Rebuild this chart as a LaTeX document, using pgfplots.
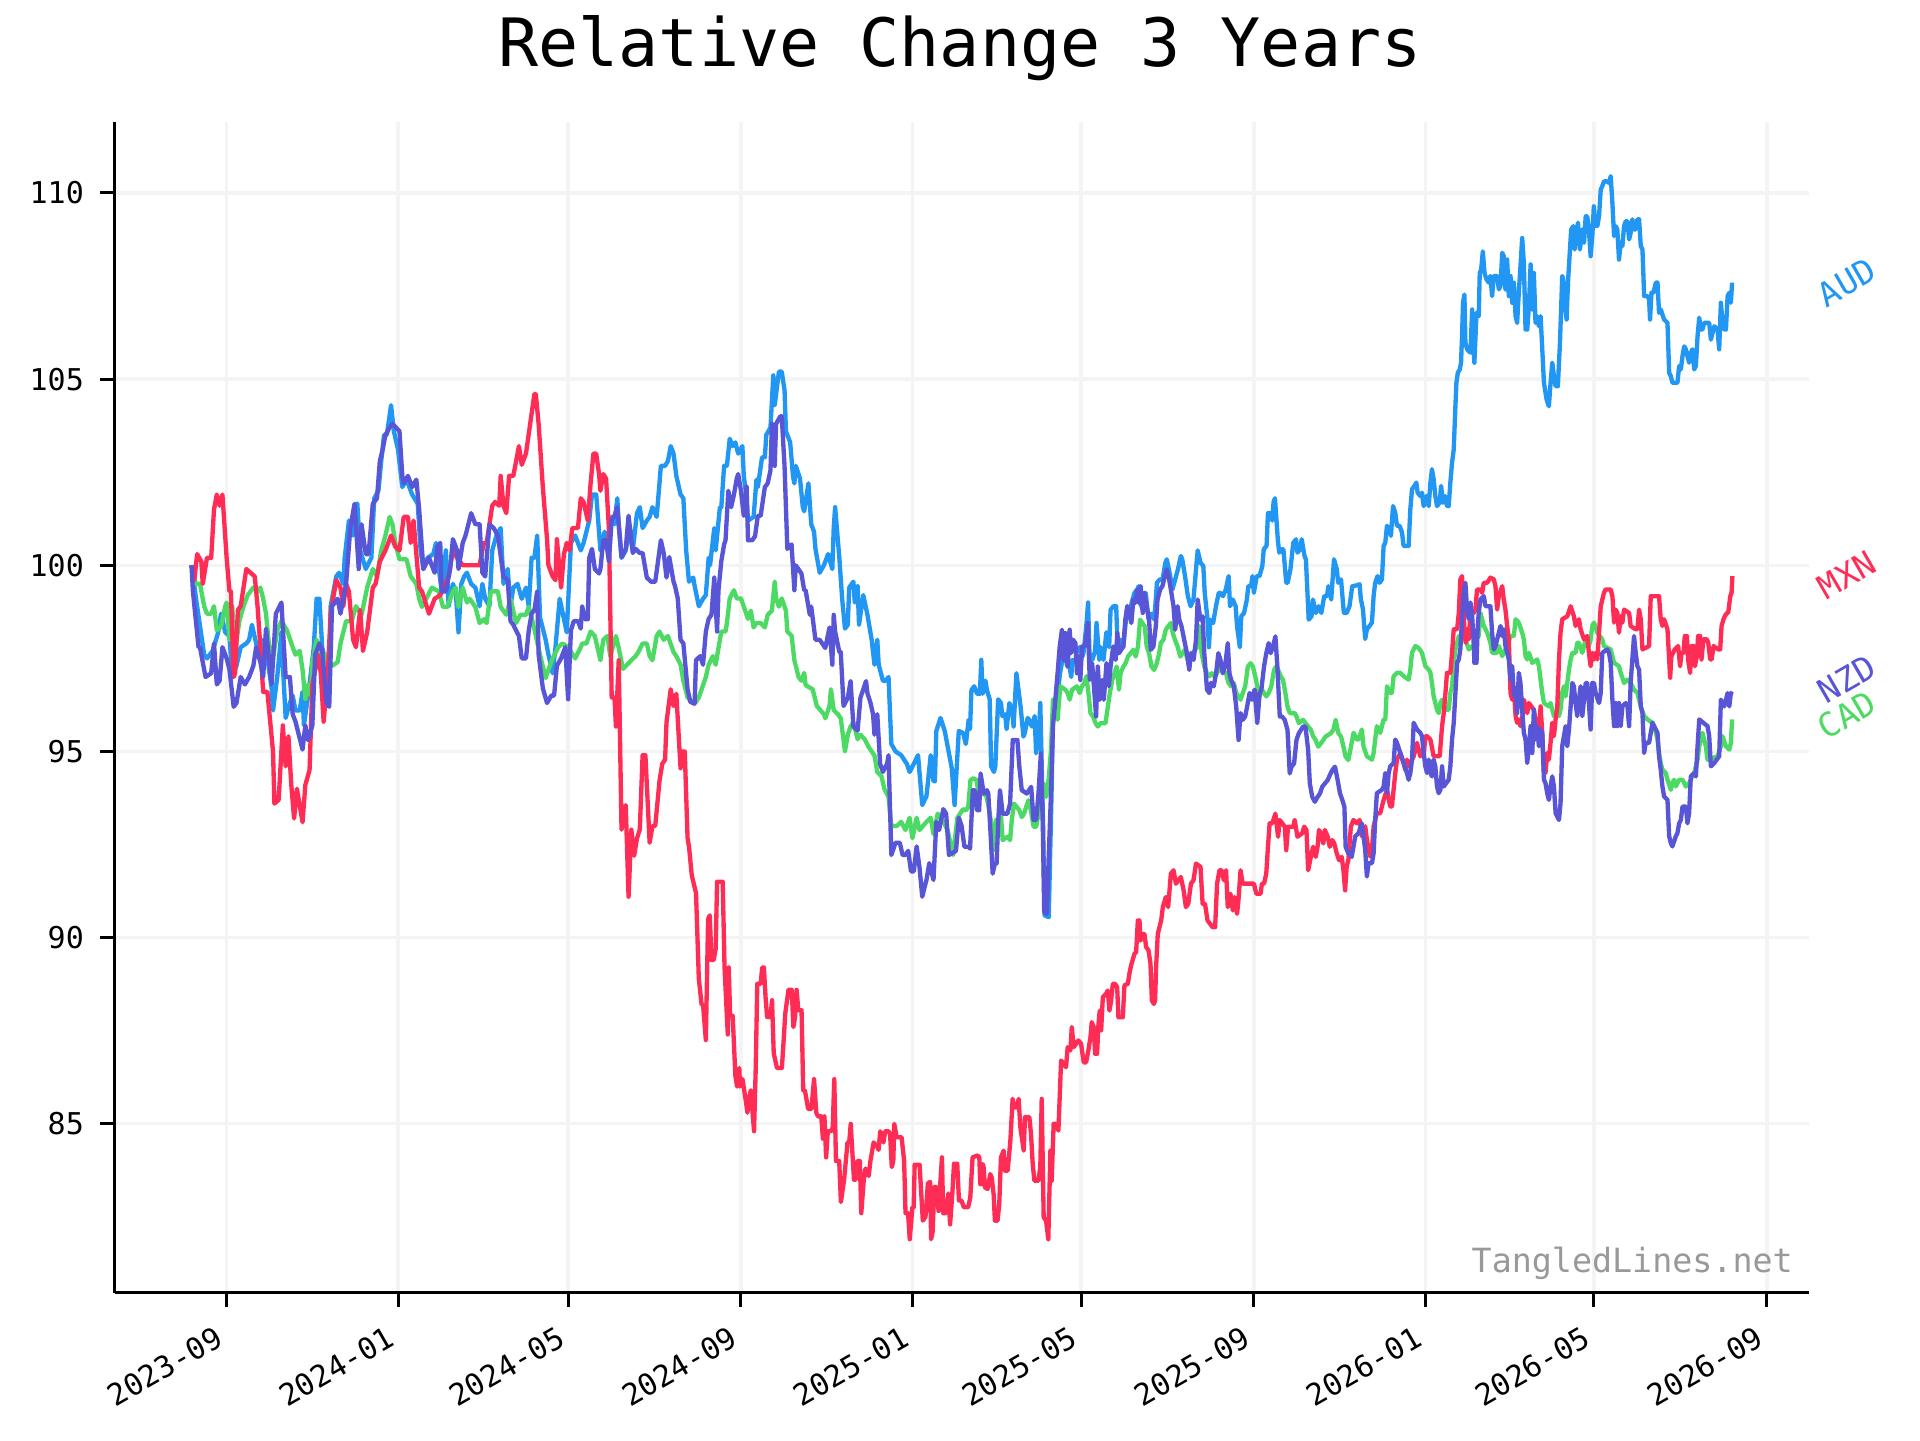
\documentclass[border=0pt]{standalone}
\usepackage{pgfplots}
\pgfplotsset{compat=1.18}
\usepackage{fontspec}
\setmainfont{DejaVu Sans Mono}
\definecolor{audc}{HTML}{2196F3}
\definecolor{mxnc}{HTML}{FF2D55}
\definecolor{nzdc}{HTML}{5856D6}
\definecolor{cadc}{HTML}{4CD964}
\definecolor{gridc}{HTML}{F4F4F4}
\definecolor{wmc}{HTML}{999999}
\begin{document}
\begin{tikzpicture}
\useasboundingbox (0,0) rectangle (576pt,432pt);
\node[anchor=base, font=\fontsize{20}{24}\selectfont] at (288pt,412pt) {Relative Change 3 Years};
\begin{axis}[
  at={(34.35pt,44.25pt)}, anchor=south west,
  width=508.26pt, height=351.1pt, scale only axis,
  xmin=-54.8, xmax=1150.8, ymin=80.47, ymax=111.9,
  axis lines=left, axis line style={-, line width=0.9pt, black},
  tick align=outside, major tick length=4.2pt,
  tick style={black, line width=0.9pt},
  xtick={25,147,268,391,513,633,756,878,998,1121},
  xticklabels={2023-09,2024-01,2024-05,2024-09,2025-01,2025-05,2025-09,2026-01,2026-05,2026-09},
  ytick={85,90,95,100,105,110},
  grid=major, grid style={gridc, line width=1pt},
  tick label style={font=\fontsize{9}{11}\selectfont},
  xticklabel style={xshift=-3.7pt, yshift=-5.4pt, rotate=30, anchor=north east, inner sep=0pt},
  yticklabel style={anchor=east, inner sep=0pt, xshift=-4.8pt},
  /pgf/number format/assume math mode=true,
  clip=false,
  every axis plot/.append style={line width=1.3pt, line join=round, no markers},
]
% AUD
\addplot[audc] table[row sep=\\] {x y\\
0 100\\ 4 98.9\\ 9 97.6\\ 11 97.5\\ 15 97.7\\ 19 98.2\\ 21 98.7\\ 24 98.2\\ 27 98.1\\ 29 97.0\\ 32 97.3\\ 35 97.8\\ 39 97.9\\ 41 98.0\\ 43 98.4\\ 46 97.9\\ 48 97.6\\ 51 98.0\\ 54 97.5\\ 57 96.7\\ 58 96.1\\ 61 97.0\\ 64 98.2\\ 65 97.3\\ 67 95.9\\ 70 96.3\\ 72 96.5\\ 74 96.1\\ 77 96.1\\ 79 96.6\\ 80 95.7\\ 84 96.8\\ 87 97.8\\ 89 99.1\\ 91 99.1\\ 93 97.8\\ 96 97.3\\ 98 96.5\\ 99 98.9\\ 100 99.1\\
103 99.7\\ 105 99.8\\ 108 99.5\\ 109 100.2\\ 112 101.2\\ 115 100.8\\ 117 101.65\\ 118 101.65\\ 120 100.4\\ 124 99.9\\ 128 100.2\\ 130 101.8\\ 133 102.0\\ 135 102.8\\ 137 103.5\\ 139 103.5\\ 142 104.3\\ 144 103.6\\ 147 103.1\\ 150 102.1\\ 153 102.3\\ 157 101.9\\ 161 101.65\\ 163 100.4\\ 165 99.9\\ 168 100.2\\ 172 100.3\\ 174 100.6\\ 176 99.9\\ 178 99.3\\ 181 100.4\\ 183 98.9\\ 186 99.5\\ 188 99.3\\ 190 98.2\\ 192 99.5\\ 194 99.7\\ 196 99.8\\ 199 99.5\\ 202 99.4\\
205 98.9\\ 207 99.5\\ 209 99.1\\ 212 98.9\\ 214 100.4\\ 217 100.8\\ 220 101.0\\ 222 99.5\\ 225 99.9\\ 227 98.9\\ 229 99.4\\ 232 99.5\\ 235 99.1\\ 238 99.4\\ 240 98.9\\ 242 100.2\\ 244 100.2\\ 246 100.8\\ 248 98.6\\ 252 98.0\\ 254 97.6\\ 257 97.1\\ 259 97.8\\ 262 99.1\\ 267 98.2\\ 270 100.6\\ 273 100.8\\ 277 100.4\\ 279 100.6\\ 283 101.2\\ 285 101.9\\ 288 101.9\\ 289 101.4\\ 291 100.4\\ 294 100.9\\ 296 100.6\\ 299 101.3\\ 301 101.1\\ 303 101.8\\ 304 101.1\\
306 100.2\\ 309 100.4\\ 312 101.0\\ 314 100.4\\ 317 101.4\\ 319 101.56\\ 321 101.0\\ 324 101.2\\ 326 101.3\\ 328 101.56\\ 331 101.3\\ 333 102.2\\ 334 102.67\\ 337 102.67\\ 339 102.8\\ 341 103.2\\ 343 103.0\\ 345 102.4\\ 348 101.9\\ 350 101.8\\ 352 100.4\\ 354 99.56\\ 357 99.67\\ 358 99.45\\ 361 98.9\\ 364 99.1\\ 366 99.2\\ 368 100.2\\ 369 100.0\\ 372 101.0\\ 373 100.4\\ 376 101.56\\ 377 101.56\\ 379 102.67\\ 381 102.67\\ 383 103.4\\ 385 103.2\\ 387 103.3\\ 389 103.0\\ 392 103.2\\
393 102.4\\ 395 101.8\\ 396 101.2\\ 400 101.3\\ 402 102.3\\ 403 102.1\\ 406 102.9\\ 408 102.9\\ 409 103.5\\ 412 103.7\\ 414 105.1\\ 415 104.3\\ 418 105.2\\ 420 105.2\\ 422 104.7\\ 423 103.6\\ 426 103.3\\ 428 102.4\\ 429 102.2\\ 430 102.67\\ 433 102.33\\ 435 101.56\\ 436 101.45\\ 439 102.2\\ 441 101.1\\ 443 100.9\\ 444 100.44\\ 447 99.8\\ 450 100.0\\ 453 100.3\\ 456 99.9\\ 457 101.0\\ 458 101.56\\ 461 100.2\\ 463 99.1\\ 465 98.3\\ 467 98.4\\ 468 99.4\\ 471 99.56\\ 472 99.0\\
474 99.45\\ 475 98.4\\ 478 99.2\\ 481 98.67\\ 484 98.0\\ 486 97.33\\ 488 98.0\\ 489 97.33\\ 492 96.9\\ 494 96.9\\ 496 97.0\\ 498 95.2\\ 501 95.0\\ 505 94.9\\ 509 94.67\\ 511 94.45\\ 514 94.67\\ 517 94.9\\ 520 93.56\\ 523 93.8\\ 526 94.9\\ 528 94.2\\ 529 94.2\\ 530 95.55\\ 533 95.9\\ 536 95.55\\ 541 94.55\\ 543 93.56\\ 546 95.55\\ 549 95.5\\ 551 95.2\\ 553 95.85\\ 554 95.6\\ 555 96.65\\ 557 96.75\\ 559 96.55\\ 561 96.55\\ 562 97.46\\ 563 96.55\\ 565 96.9\\
566 96.65\\ 568 96.4\\ 569 94.6\\ 571 94.45\\ 572 94.6\\ 574 96.4\\ 576 96.3\\ 577 95.95\\ 579 96.0\\ 580 95.6\\ 582 96.3\\ 584 96.1\\ 585 95.67\\ 587 97.1\\ 588 96.8\\ 590 96.2\\ 592 95.4\\ 593 95.5\\ 595 95.9\\ 596 95.85\\ 598 95.67\\ 600 95.95\\ 601 94.95\\ 603 95.5\\ 604 96.3\\ 606 92.98\\ 607 90.6\\ 610 90.55\\ 612 93.87\\ 613 96.0\\ 615 96.4\\ 616 96.4\\ 618 97.1\\ 619 97.3\\ 621 97.8\\ 623 97.3\\ 624 97.46\\ 626 97.0\\ 627 97.46\\ 629 97.4\\
630 97.7\\ 632 97.8\\ 634 97.55\\ 635 97.7\\ 637 98.5\\ 638 99.0\\ 639 97.6\\ 641 97.46\\ 643 97.7\\ 644 98.45\\ 646 97.46\\ 647 97.8\\ 649 97.46\\ 651 98.2\\ 653 97.8\\ 654 98.8\\ 656 98.9\\ 658 98.9\\ 659 97.8\\ 661 98.0\\ 663 97.8\\ 665 98.55\\ 666 98.9\\ 668 98.8\\ 669 98.99\\ 671 99.26\\ 673 99.35\\ 674 99.44\\ 675 98.99\\ 677 98.81\\ 679 99.26\\ 681 98.55\\ 683 98.7\\ 685 98.55\\ 686 98.99\\ 687 99.53\\ 689 99.62\\ 691 99.62\\ 693 100.07\\ 694 100.16\\
696 99.8\\ 698 99.35\\ 700 99.62\\ 702 99.9\\ 704 100.25\\ 705 100.16\\ 707 99.71\\ 709 99.17\\ 711 98.9\\ 713 99.08\\ 715 99.98\\ 716 100.4\\ 718 100.07\\ 720 99.98\\ 721 99.26\\ 723 98.54\\ 724 97.8\\ 725 98.54\\ 727 98.45\\ 729 98.9\\ 731 99.26\\ 732 99.26\\ 734 99.17\\ 736 99.35\\ 738 99.71\\ 739 98.9\\ 741 99.08\\ 743 98.9\\ 744 98.36\\ 746 97.8\\ 747 98.63\\ 749 98.72\\ 751 99.08\\ 752 99.44\\ 754 99.44\\ 755 99.71\\ 756 99.26\\ 758 99.71\\ 760 99.71\\ 762 99.98\\
763 100.43\\ 765 100.52\\ 766 101.4\\ 768 101.4\\ 769 101.2\\ 770 101.7\\ 771 101.8\\ 773 100.7\\ 774 100.34\\ 776 100.43\\ 777 100.43\\ 779 99.53\\ 780 99.53\\ 782 99.89\\ 784 100.6\\ 786 100.7\\ 787 100.34\\ 789 100.43\\ 790 100.7\\ 792 100.25\\ 793 100.16\\ 795 98.54\\ 797 98.63\\ 798 99.08\\ 800 98.72\\ 802 98.9\\ 804 98.72\\ 806 99.17\\ 808 99.17\\ 809 99.44\\ 811 99.08\\ 813 100.16\\ 815 99.89\\ 816 99.53\\ 818 99.62\\ 820 98.72\\ 822 98.72\\ 824 98.9\\ 826 99.44\\ 828 99.45\\
831.2 99.49\\ 832.1 99.09\\ 833.6 98.82\\ 835.2 98.02\\ 836.4 98.28\\ 838.3 98.37\\ 840 98.46\\ 841.2 99.18\\ 842.3 99.53\\ 844 99.71\\ 845.4 99.53\\ 847.1 99.62\\ 848.3 100.52\\ 849.5 100.61\\ 850.7 101.06\\ 852.6 100.97\\ 853.5 100.79\\ 855 101.59\\ 856.6 101.41\\ 857.8 101.06\\ 859.7 101.06\\ 861.4 100.88\\ 862.5 100.52\\ 866.1 100.52\\ 867.3 101.5\\ 868.5 102.04\\ 870.2 102.13\\ 871.6 102.22\\ 872.5 101.95\\ 874.4 101.86\\ 875.6 101.95\\ 876.8 101.59\\ 878.7 101.86\\ 880.4 101.59\\ 881.6 102.22\\ 882.7 102.58\\ 883.9 102.31\\ 885.1 101.86\\ 886.3 101.59\\ 888.2 101.68\\
889.2 102.13\\ 890.6 101.68\\ 892.2 101.86\\ 893.4 101.59\\ 894.6 101.59\\ 895.8 102.22\\ 897 102.76\\ 898.2 103.11\\ 899.4 104.28\\ 900.1 104.9\\ 901.1 105.17\\ 902.5 105.26\\ 903.4 105.44\\ 904.1 106.15\\ 904.8 107.05\\ 905.8 107.27\\ 906.5 105.98\\ 907.7 105.8\\ 910.1 105.71\\ 911.3 106.87\\ 912 105.98\\ 912.9 105.44\\ 914.4 106.78\\ 916 106.69\\ 916.7 107.85\\ 917.7 107.94\\ 918.9 108.43\\ 920.1 107.85\\ 921.5 107.68\\ 923.1 107.59\\ 924.3 107.77\\ 925.5 107.23\\ 926.7 107.77\\ 929.1 107.77\\ 930.3 107.41\\ 931.5 107.5\\ 932.7 108.39\\ 933.8 108.3\\ 935 107.41\\ 936.2 108.21\\
937.4 107.23\\ 938.6 107.77\\ 939.8 107.05\\ 941 107.59\\ 942.2 106.69\\ 943.3 106.51\\ 944.5 107.32\\ 945.7 108.03\\ 946.9 108.79\\ 948.1 108.12\\ 949.3 106.33\\ 950.5 106.33\\ 951.7 106.96\\ 952.9 108.08\\ 954.1 106.87\\ 955.2 107.85\\ 956.4 106.51\\ 957.6 106.69\\ 958.8 106.42\\ 960 106.69\\ 961.2 105.8\\ 962.4 104.9\\ 964.3 104.45\\ 965.9 104.27\\ 967.1 104.9\\ 968.3 105.44\\ 969.5 105.08\\ 970.7 104.81\\ 972.3 104.81\\ 973.8 105.98\\ 975.4 107.77\\ 976.1 107.68\\ 977.1 107.05\\ 978.5 106.6\\ 979.5 107.59\\ 980.9 108.48\\ 981.8 109.02\\ 983.3 109.11\\ 984.2 108.48\\
985.6 108.93\\ 986.6 109.2\\ 988 108.48\\ 989.7 109.02\\ 990.9 108.66\\ 992.1 109.37\\ 993.2 109.37\\ 994.4 109.02\\ 995.6 108.3\\ 996.8 108.84\\ 997.9 109.64\\ 999.2 109.11\\ 1000.4 109.11\\ 1001.6 109.37\\ 1002.8 110.09\\ 1003.9 110.18\\ 1005.1 110.31\\ 1007 110.31\\ 1008.7 110.27\\ 1009.9 110.45\\ 1011.1 109.73\\ 1012.3 108.84\\ 1013.4 109.11\\ 1014.6 109.02\\ 1015.8 108.21\\ 1017 108.66\\ 1018.2 108.57\\ 1019.4 109.11\\ 1020.6 109.24\\ 1021.8 109.24\\ 1023 108.75\\ 1024.1 108.93\\ 1025.3 109.29\\ 1026.5 109.02\\ 1027.7 109.02\\ 1028.9 109.29\\ 1030.1 109.29\\ 1031.3 108.57\\
1032.5 108.48\\ 1033.7 107.23\\ 1036 107.23\\ 1037.2 107.14\\ 1037.9 106.6\\ 1038.9 107.32\\ 1040.3 107.32\\ 1042 107.59\\ 1043.2 107.59\\ 1044.3 106.78\\ 1045.5 106.87\\ 1047.9 106.6\\ 1050.3 106.51\\ 1051.5 105.17\\ 1052.7 105.08\\ 1053.8 104.9\\ 1057.4 104.9\\ 1058.6 105.35\\ 1059.8 105.26\\ 1061 105.62\\ 1062.2 105.88\\ 1063.4 105.8\\ 1064.5 105.62\\ 1065.7 105.44\\ 1066.9 105.71\\ 1068.1 105.8\\ 1069.3 105.26\\ 1070.5 105.35\\ 1071.7 106.15\\ 1072.9 106.65\\ 1074 106.33\\ 1075.2 106.33\\ 1076.4 106.51\\ 1080 106.51\\ 1081.2 106.06\\ 1082.4 106.24\\ 1083.6 106.42\\ 1085.9 106.33\\ 1087.1 105.8\\ 1088.3 107.05\\
1089.5 106.51\\ 1090.7 106.33\\ 1091.9 106.33\\ 1093.1 107.23\\ 1094.3 107.32\\ 1095.4 107.05\\ 1096.3 107.59\\
};
% CAD
\addplot[cadc] table[row sep=\\] {x y\\
0 100\\ 3 99.5\\ 6 99.5\\ 9 98.9\\ 11 98.7\\ 14 98.7\\ 16 98.9\\ 18 98.25\\ 21 98.35\\ 24 98.9\\ 25 99.0\\ 27 98.0\\ 29 98.9\\ 31 97.7\\ 34 98.5\\ 37 98.9\\ 40 99.2\\ 44 99.4\\ 47 99.3\\ 49 99.4\\ 51 99.1\\ 53 98.7\\ 55 97.9\\ 58 97.5\\ 61 98.25\\ 64 98.5\\ 68 98.25\\ 72 97.8\\ 74 97.6\\ 77 97.7\\ 79 97.2\\ 81 96.4\\ 83 96.8\\ 85 96.5\\ 86 97.4\\ 89 98.0\\ 91 97.8\\ 94 97.3\\ 96 97.6\\ 100 97.3\\
104 97.4\\ 106 97.9\\ 110 98.5\\ 114 98.5\\ 117 98.9\\ 121 98.67\\ 125 99.4\\ 129 99.9\\ 132 99.7\\ 135 100.4\\ 138 100.8\\ 141 101.3\\ 143 101.1\\ 145 100.6\\ 148 100.16\\ 153 100.16\\ 156 99.7\\ 160 99.5\\ 162 99.1\\ 164 98.88\\ 167 99.1\\ 171 99.4\\ 176 99.3\\ 179 98.88\\ 182 98.88\\ 186 99.3\\ 188 99.4\\ 190 98.88\\ 193 99.4\\ 196 99.0\\ 198 99.1\\ 202 98.88\\ 205 98.45\\ 208 98.55\\ 210 98.45\\ 213 99.3\\ 218 99.3\\ 220 98.88\\ 224 98.67\\ 227 99.1\\
231 98.45\\ 234 98.67\\ 238 98.67\\ 240 98.88\\ 243 98.45\\ 248 97.6\\ 252 96.97\\ 254 97.2\\ 257 97.5\\ 261 97.8\\ 264 97.9\\ 268 97.8\\ 273 97.5\\ 277 97.8\\ 278 97.9\\ 281 97.9\\ 284 98.22\\ 287 98.1\\ 291 97.45\\ 293 98.0\\ 296 98.1\\ 298 97.56\\ 302 98.1\\ 304 97.78\\ 307 97.22\\ 310 97.33\\ 313 97.45\\ 316 97.56\\ 318 97.67\\ 321 97.9\\ 324 97.9\\ 326 97.56\\ 328 97.45\\ 331 98.1\\ 333 98.22\\ 336 98.0\\ 339 98.1\\ 343 97.67\\ 345 97.56\\ 348 97.33\\
350 96.9\\ 353 96.45\\ 356 96.33\\ 359 96.33\\ 361 96.45\\ 363 96.67\\ 366 97.0\\ 368 97.33\\ 371 97.56\\ 373 97.33\\ 375 97.78\\ 377 98.22\\ 380 98.22\\ 381 98.45\\ 383 99.11\\ 386 99.33\\ 388 99.11\\ 391 99.11\\ 393 98.89\\ 396 98.56\\ 398 98.78\\ 400 98.33\\ 402 98.45\\ 405 98.45\\ 408 98.33\\ 410 98.67\\ 413 98.78\\ 415 99.56\\ 416 99.11\\ 418 98.89\\ 420 99.11\\ 423 98.78\\ 424 98.22\\ 427 98.11\\ 429 97.45\\ 432 97.0\\ 434 96.9\\ 436 97.11\\ 437 96.78\\ 442 96.67\\
445 96.22\\ 450 96.0\\ 451 95.89\\ 454 96.22\\ 455 96.67\\ 457 96.11\\ 460 96.0\\ 462 95.89\\ 465 95.0\\ 467 95.45\\ 469 95.67\\ 471 95.78\\ 474 95.33\\ 476 95.45\\ 479 95.33\\ 482 95.11\\ 486 94.89\\ 488 94.45\\ 491 94.33\\ 493 94.0\\ 496 93.78\\ 498 93.0\\ 502 93.0\\ 505 93.11\\ 508 92.89\\ 511 93.22\\ 513 92.67\\ 516 93.22\\ 518 92.89\\ 523 93.11\\ 526 93.22\\ 528 92.78\\ 531 93.33\\ 535 93.11\\ 538 92.89\\ 542 92.22\\ 545 93.22\\ 549 93.45\\ 551 93.42\\ 552.7 93.51\\
554.3 94.23\\ 556.3 94.28\\ 558.6 94.23\\ 560.5 93.78\\ 562.2 93.87\\ 563.9 93.87\\ 565.8 93.78\\ 567.7 93.42\\ 569.4 92.98\\ 571 92.35\\ 572.5 93.16\\ 574.1 93.16\\ 575.8 93.42\\ 577.2 92.62\\ 580.6 92.71\\ 582.5 92.62\\ 583.7 93.16\\ 585.3 93.6\\ 587.2 93.51\\ 589.1 93.42\\ 590.8 93.24\\ 592.5 93.33\\ 593.9 93.51\\ 595.6 93.69\\ 597.3 93.42\\ 599.2 92.98\\ 601.1 92.98\\ 602.7 93.33\\ 604.4 93.87\\ 606.3 94.14\\ 608.2 93.78\\ 609.9 94.23\\ 611.6 95.04\\ 613 96.39\\ 614.7 96.39\\ 616.3 95.85\\ 618.2 96.75\\ 621.8 96.66\\ 623.5 96.57\\ 624.9 96.39\\
626.6 96.66\\ 630.1 96.75\\ 632 96.57\\ 633.7 96.75\\ 635.4 96.84\\ 636.8 97.02\\ 638.5 96.48\\ 639.7 96.03\\ 641.6 95.94\\ 643.3 95.76\\ 644.9 95.67\\ 646.8 95.76\\ 650.4 95.76\\ 652.1 96.21\\ 653.5 96.57\\ 655.2 96.92\\ 656.8 97.1\\ 658.3 97.28\\ 660 96.66\\ 661.1 97.1\\ 663.1 97.28\\ 664.7 97.37\\ 666.4 97.55\\ 668.3 97.64\\ 670.2 97.73\\ 671.9 97.55\\ 673.5 97.82\\ 675 98.54\\ 676.6 98.45\\ 678.3 98.36\\ 679.7 97.82\\ 681.4 97.64\\ 683.1 97.28\\ 685 97.19\\ 686.9 97.37\\ 688.6 97.64\\ 689.7 97.91\\ 691.6 98.0\\ 693.3 98.27\\ 695 98.36\\
696.9 98.45\\ 698.3 98.18\\ 699.8 98.0\\ 701.7 97.82\\ 703.6 97.55\\ 705.2 97.64\\ 706.9 97.73\\ 708.8 97.46\\ 712.4 97.64\\ 716 97.82\\ 717.4 98.36\\ 718.8 97.64\\ 720.7 97.28\\ 722.6 97.1\\ 724.3 97.02\\ 726 97.1\\ 727.9 97.02\\ 729.8 97.1\\ 731.5 97.28\\ 733.1 97.19\\ 736.2 97.1\\ 737.9 96.84\\ 739.8 96.75\\ 741.7 96.84\\ 743.4 96.57\\ 746.5 96.39\\ 748.1 96.57\\ 749.8 96.75\\ 751.7 97.28\\ 753.6 97.37\\ 755.3 97.28\\ 757 97.01\\ 758.9 96.66\\ 760.1 96.48\\ 761.7 96.66\\ 763.2 96.57\\ 764.8 96.48\\ 766.5 96.57\\ 768.4 96.75\\ 770.3 97.19\\
772 97.28\\ 773.2 97.19\\ 775.1 97.02\\ 776.7 96.92\\ 778.4 96.57\\ 779.9 96.21\\ 781.5 96.03\\ 785.1 96.03\\ 786.3 95.94\\ 788 95.76\\ 791 95.85\\ 792.7 95.76\\ 794.6 95.67\\ 796.5 95.58\\ 798.2 95.4\\ 799.9 95.31\\ 801.8 95.13\\ 803.7 95.22\\ 805.4 95.31\\ 807 95.4\\ 810.8 95.49\\ 812.5 95.58\\ 814.2 95.85\\ 816.1 95.49\\ 818 95.4\\ 819.7 95.13\\ 821.3 94.86\\ 823.2 94.77\\ 825.1 95.13\\ 826.9 95.5\\ 829.3 95.32\\ 830.5 95.32\\ 832.8 95.59\\ 834 95.14\\ 836.4 94.87\\ 840 94.78\\ 841.2 94.96\\ 842.3 95.32\\ 843.5 95.68\\ 845.9 95.5\\
848.3 95.86\\ 849.5 95.86\\ 850.7 96.75\\ 853 96.57\\ 854.2 96.57\\ 855.4 97.02\\ 857.8 97.11\\ 860.2 97.11\\ 862.5 97.02\\ 866.1 96.93\\ 867.3 97.2\\ 868.5 97.65\\ 870.9 97.83\\ 873.2 97.78\\ 875.6 97.65\\ 878 97.29\\ 880.4 97.2\\ 881.6 97.11\\ 882.7 96.84\\ 883.9 96.48\\ 886.3 96.12\\ 887.5 96.03\\ 888.7 96.3\\ 889.9 96.39\\ 892.3 96.12\\ 894.6 96.12\\ 895.8 96.57\\ 897 96.75\\ 898.2 97.38\\ 899.4 97.74\\ 900.6 97.92\\ 901.8 98.1\\ 902.9 97.92\\ 904.1 98.19\\ 906.5 98.01\\ 908.9 97.74\\ 911.3 97.83\\ 912.5 97.74\\ 913.6 98.01\\ 916 98.1\\
917.2 98.72\\ 919.6 98.37\\ 922 98.19\\ 924.3 97.92\\ 925.5 97.65\\ 929.1 97.65\\ 930.3 97.83\\ 932.7 97.56\\ 936.2 97.83\\ 938.6 98.1\\ 941 98.1\\ 942.2 98.55\\ 944.5 98.46\\ 946.9 98.19\\ 948.1 98.01\\ 949.3 97.56\\ 950.5 97.47\\ 951.7 97.65\\ 954.1 97.38\\ 957.6 97.47\\ 958.8 97.29\\ 960 96.93\\ 961.2 96.57\\ 962.4 96.3\\ 965.9 96.21\\ 967.1 96.3\\ 969.5 95.95\\ 971.9 96.03\\ 973.1 95.95\\ 974.2 96.12\\ 975.4 96.57\\ 976.6 96.75\\ 977.8 96.48\\ 979 96.84\\ 980.2 97.2\\ 981.4 97.47\\ 982.6 97.65\\ 984.9 97.65\\ 986.1 97.92\\ 987.3 97.92\\
989.7 97.65\\ 992.1 98.01\\ 993.2 98.01\\ 994.4 97.83\\ 995.6 98.01\\ 996.8 98.37\\ 998 98.46\\ 1000.4 98.19\\ 1003.9 98.01\\ 1005.1 97.83\\ 1009.9 97.74\\ 1011.1 97.56\\ 1012.3 97.38\\ 1015.8 97.29\\ 1017 97.11\\ 1019.4 96.84\\ 1021.8 96.93\\ 1024.1 96.84\\ 1026.5 96.66\\ 1028.9 96.57\\ 1030.1 96.39\\ 1031.3 96.21\\ 1033.7 95.95\\ 1036 95.86\\ 1039.6 95.77\\ 1040.8 95.68\\ 1042 95.5\\ 1043.2 95.32\\ 1044.3 94.96\\ 1045.5 94.69\\ 1046.7 94.51\\ 1049.1 94.42\\ 1050.3 94.24\\ 1052.7 93.97\\ 1053.8 94.15\\ 1055 94.24\\ 1056.2 94.06\\ 1058.6 94.24\\ 1061 94.24\\ 1063.4 94.06\\
1065.7 94.15\\ 1068.1 94.33\\ 1069.3 94.42\\ 1070.5 94.6\\ 1071.7 94.78\\ 1072.9 95.14\\ 1074 95.32\\ 1075.2 95.5\\ 1076.4 95.32\\ 1077.6 95.14\\ 1078.8 94.78\\ 1085.9 94.87\\ 1088.3 95.14\\ 1089.5 95.41\\ 1091.9 95.14\\ 1094.3 95.05\\ 1095.4 95.23\\ 1096.3 95.86\\
};
% MXN
\addplot[mxnc] table[row sep=\\] {x y\\
0 100.0\\ 2 99.6\\ 4 100.3\\ 7 100.1\\ 8 99.5\\ 11 100.2\\ 14 100.2\\ 16 101.5\\ 18 101.9\\ 20 101.6\\ 22 101.9\\ 25 100.2\\ 27 99.3\\ 28 99.3\\ 30 97.0\\ 31 97.1\\ 33 98.8\\ 35 98.9\\ 39 99.9\\ 42 99.8\\ 45 99.7\\ 47 98.9\\ 49 97.8\\ 51 96.6\\ 54 96.6\\ 58 95.0\\ 59 93.6\\ 62 93.7\\ 65 95.7\\ 67 94.6\\ 69 95.4\\ 71 94.1\\ 73 93.2\\ 75 94.0\\ 79 93.1\\ 81 94.1\\ 84 94.5\\ 86 96.8\\ 90 97.6\\ 92 97.1\\
94 95.8\\ 97 97.1\\ 99 98.7\\ 103 99.6\\ 106 99.4\\ 108 98.9\\ 110 99.5\\ 112 99.3\\ 115 98.0\\ 117 97.8\\ 120 98.8\\ 122 97.7\\ 125 98.2\\ 129 99.4\\ 131 99.5\\ 134 100.1\\ 138 100.4\\ 142 100.8\\ 145 100.5\\ 148 100.4\\ 151 101.3\\ 154 101.3\\ 156 100.6\\ 158 101.2\\ 162 99.4\\ 164 99.3\\ 169 98.7\\ 173 99.1\\ 177 99.2\\ 183 99.7\\ 186 100.4\\ 189 100.2\\ 193 100.0\\ 197 100.0\\ 205 100.0\\ 208 100.6\\ 210 100.6\\ 214 101.6\\ 216 101.7\\ 219 101.6\\
220 102.4\\ 222 101.6\\ 224 101.4\\ 226 102.4\\ 229 102.4\\ 233 103.2\\ 235 102.7\\ 238 103.0\\ 244 104.6\\ 245 104.6\\ 247 103.8\\ 250 102.1\\ 253 100.7\\ 254 100.0\\ 257 99.7\\ 259 99.6\\ 260 100.7\\ 263 99.4\\ 265 100.3\\ 267 100.6\\ 269 100.4\\ 271 101.0\\ 275 101.0\\ 277 101.8\\ 279 101.7\\ 282 101.2\\ 284 102.2\\ 286 103.0\\ 288 103.0\\ 290 102.45\\ 291 102.0\\ 293 102.45\\ 295 102.33\\ 297 101.0\\ 299 96.45\\ 301 96.45\\ 302 95.67\\ 304 97.45\\ 306 92.9\\ 309 93.56\\
311 91.1\\ 313 92.9\\ 315 92.2\\ 317 92.67\\ 319 92.9\\ 321 94.9\\ 323 94.9\\ 326 92.55\\ 328 93.0\\ 330 93.0\\ 333 94.2\\ 335 94.67\\ 337 94.78\\ 338 95.78\\ 341 96.67\\ 343 96.22\\ 345 96.55\\ 348 94.55\\ 349 95.0\\ 351 95.0\\ 353 92.67\\ 354 92.45\\ 356 91.67\\ 359 91.2\\ 361 88.9\\ 363 88.2\\ 364 88.2\\ 366 87.25\\ 367.6 90.5\\ 368.8 90.6\\ 370 89.4\\ 371.6 89.4\\ 373 89.7\\ 374 91.5\\ 378 91.5\\ 379.3 89.2\\ 381.6 87.4\\ 382.3 89.2\\ 383.3 87.9\\ 385.1 87.9\\
386.3 86.9\\ 387 86.3\\ 388.2 86.0\\ 389.8 86.5\\ 390.3 86.0\\ 392.1 86.2\\ 393.3 85.9\\ 394.5 85.6\\ 395.6 85.3\\ 396.8 85.7\\ 398 85.9\\ 400.3 84.8\\ 401.5 86.5\\ 402.6 88.76\\ 405 88.76\\ 406.1 89.2\\ 407.3 89.2\\ 408.5 88.4\\ 409.6 87.87\\ 412 87.87\\ 413.1 88.32\\ 414.3 86.9\\ 416.6 86.5\\ 420.1 86.5\\ 421.3 87.2\\ 422.5 87.96\\ 424.8 88.6\\ 427.1 88.6\\ 428.3 87.6\\ 429.5 87.87\\ 430.6 88.6\\ 431.8 88.05\\ 434.1 88.05\\ 435.3 85.9\\ 436.5 85.9\\ 438.8 85.4\\ 441.1 85.4\\ 443 86.2\\ 444.6 85.3\\ 445.8 85.2\\
448.1 85.2\\ 449.3 84.6\\ 450.4 85.2\\ 451.6 84.1\\ 452.8 84.8\\ 455.1 84.8\\ 456.3 84.9\\ 457.4 86.2\\ 458.6 84.0\\ 460.9 84.0\\ 462.1 82.9\\ 464.4 83.5\\ 466.8 84.5\\ 468 84.5\\ 469.1 85.0\\ 471.4 83.5\\ 472.6 83.5\\ 473.8 84.0\\ 475.6 84.0\\ 476.6 82.6\\ 478.4 83.5\\ 479.6 83.8\\ 481.9 83.6\\ 483.1 84.0\\ 485.4 84.5\\ 487.8 84.4\\ 488.9 84.3\\ 490.1 84.8\\ 492.4 84.5\\ 493.6 84.8\\ 496 84.8\\ 497.1 84.73\\ 498.3 83.84\\ 499.4 84.0\\ 500.1 85.0\\ 501.8 84.64\\ 505.3 84.64\\ 507.1 84.0\\ 508.1 82.6\\ 509.9 82.6\\
511.1 81.9\\ 513 82.76\\ 513.9 82.76\\ 514.6 83.9\\ 518.1 83.9\\ 520.4 82.4\\ 522.3 82.5\\ 524 83.4\\ 525.6 83.44\\ 526.3 81.9\\ 527.4 82.1\\ 528.6 83.3\\ 530.2 83.3\\ 531.6 82.66\\ 534 84.1\\ 534.9 82.6\\ 536.8 82.6\\ 538.6 83.13\\ 539.8 82.3\\ 541.4 83.13\\ 542.6 83.93\\ 544.9 83.93\\ 546.1 82.94\\ 547.9 82.94\\ 549.6 82.76\\ 551.1 82.76\\ 552.7 82.76\\ 554.2 83.03\\ 555.8 84.1\\ 559.4 84.15\\ 560.6 84.1\\ 561.3 83.38\\ 562.2 83.38\\ 563 83.92\\ 563.7 83.83\\ 564.6 83.29\\ 566.5 83.25\\ 568.4 83.65\\ 569.4 83.56\\ 570.8 83.11\\
571.7 82.4\\ 573.6 82.4\\ 574.8 82.85\\ 576 84.1\\ 577.9 84.28\\ 578.9 83.74\\ 580.8 83.74\\ 582.7 84.55\\ 584.3 85.67\\ 585.5 85.44\\ 587.4 85.44\\ 588.6 85.67\\ 589.8 84.91\\ 592.2 84.28\\ 593.1 85.18\\ 596.2 85.18\\ 597.4 84.73\\ 598.6 83.92\\ 599.8 83.47\\ 602.6 83.47\\ 604 83.83\\ 605 85.67\\ 606.4 82.49\\ 608.1 82.4\\ 609.7 81.9\\ 611.2 84.28\\ 612.1 83.47\\ 613.5 85.0\\ 615.2 85.0\\ 616.9 84.82\\ 618.8 86.7\\ 622.3 86.52\\ 623.5 87.06\\ 625.4 86.97\\ 626.4 87.6\\ 627.8 87.06\\ 631.1 87.24\\ 633 87.15\\ 634.9 86.65\\ 636.6 86.65\\
638.2 86.97\\ 639.7 87.33\\ 640.6 87.73\\ 642 87.6\\ 643 86.88\\ 644.4 86.88\\ 645.4 87.68\\ 646.3 88.04\\ 647.3 87.51\\ 648.5 88.4\\ 650.8 88.49\\ 652 88.58\\ 653.2 88.04\\ 654.4 88.31\\ 655.6 88.76\\ 657.2 88.76\\ 658.7 88.67\\ 659.6 87.86\\ 662.7 87.86\\ 663.9 88.72\\ 666.3 88.76\\ 667.4 89.03\\ 668.6 89.25\\ 671 89.57\\ 672.2 89.61\\ 673.4 90.46\\ 674.6 90.46\\ 675.3 89.92\\ 676.9 90.1\\ 678.1 90.1\\ 679.3 89.75\\ 681 89.66\\ 682.4 89.3\\ 683.4 88.31\\ 684.8 88.22\\ 685.7 88.31\\ 686.4 89.21\\ 687.6 90.1\\ 688.8 90.28\\ 690 90.46\\
691.2 90.82\\ 693.3 91.09\\ 695 90.82\\ 696.9 91.72\\ 698.8 91.81\\ 700.5 91.45\\ 704 91.63\\ 706 91.27\\ 707.6 90.82\\ 709.3 90.91\\ 711.2 91.45\\ 713 91.54\\ 714.8 91.99\\ 718 91.9\\ 719.5 90.91\\ 721.2 90.91\\ 723 90.46\\ 726.7 90.28\\ 728.4 90.28\\ 729.8 91.45\\ 731.5 91.81\\ 733 91.81\\ 734.6 91.54\\ 736.2 91.81\\ 737.4 90.82\\ 739.3 91.18\\ 741 90.73\\ 742.2 91.09\\ 744 90.64\\ 745 91.0\\ 746.5 91.81\\ 748 91.45\\ 756 91.45\\ 757.7 91.18\\ 760.8 91.18\\ 761.7 91.45\\ 763.2 91.45\\ 764.8 91.72\\ 766 92.44\\ 767.2 93.07\\
769 93.07\\ 771.3 93.33\\ 773.2 92.71\\ 774.4 93.16\\ 778 92.98\\ 779 92.35\\ 780.3 92.98\\ 784 92.98\\ 785 93.16\\ 787 92.71\\ 790.3 92.8\\ 791.8 92.98\\ 793.4 92.89\\ 794.6 91.81\\ 796.5 92.17\\ 798.2 92.44\\ 800 92.17\\ 801.3 92.44\\ 802.3 92.89\\ 803.7 92.8\\ 805.4 92.53\\ 806.5 92.89\\ 808.5 92.71\\ 810 92.44\\ 811.8 92.62\\ 813.2 92.53\\ 815 92.26\\ 816.6 92.08\\ 818.5 92.17\\ 819.7 91.81\\ 820.9 91.27\\ 822 91.9\\ 823.2 92.08\\ 825 92.98\\ 826.8 93.16\\ 829.3 93.07\\ 831.2 93.16\\ 832.8 92.72\\ 835.2 92.99\\ 836.4 92.63\\
837.6 92.36\\ 838.8 92.18\\ 840 92.36\\ 841.2 92.99\\ 843.5 93.34\\ 845.9 93.34\\ 848.3 93.7\\ 850.7 93.97\\ 853 93.52\\ 854.2 93.52\\ 855.4 93.97\\ 856.6 94.42\\ 857.8 94.78\\ 860.2 94.96\\ 862.5 94.69\\ 863.7 94.51\\ 864.9 94.78\\ 866.1 94.6\\ 869.7 94.87\\ 872.1 95.23\\ 874.4 94.87\\ 875.6 94.96\\ 876.8 94.87\\ 878 95.41\\ 879.2 95.41\\ 881.6 95.32\\ 883.9 94.87\\ 888.2 94.87\\ 889.9 95.68\\ 891.1 96.03\\ 892.3 96.57\\ 893.4 97.11\\ 895.8 97.11\\ 897 97.65\\ 898.2 98.28\\ 900.6 98.28\\ 901.8 98.72\\ 902.9 99.62\\ 904.1 99.71\\ 904.8 99.08\\
905.8 98.28\\ 906.7 97.92\\ 907.7 98.28\\ 908.9 98.01\\ 910.1 98.72\\ 912.5 98.72\\ 913.6 98.81\\ 914.8 99.35\\ 917.2 99.35\\ 918.4 99.26\\ 919.6 99.53\\ 922 99.53\\ 924.3 99.67\\ 926.7 99.62\\ 927.9 99.44\\ 929.1 98.81\\ 930.3 99.17\\ 932.7 99.44\\ 933.8 99.08\\ 935 98.81\\ 936.2 98.37\\ 937.4 98.01\\ 938.6 96.57\\ 939.8 96.39\\ 941 96.75\\ 942.2 95.95\\ 943.3 95.77\\ 944.5 95.86\\ 945.7 95.68\\ 946.9 95.86\\ 948.1 96.39\\ 950.5 96.03\\ 951.7 96.3\\ 955.2 96.12\\ 956.4 95.86\\ 957.6 95.59\\ 958.8 95.5\\ 960 96.21\\ 961.2 95.5\\ 962.4 94.42\\
963.5 94.42\\ 964.7 94.96\\ 965.9 94.78\\ 967.1 95.23\\ 968.3 95.77\\ 969.5 95.41\\ 970.7 95.86\\ 971.9 96.21\\ 973.1 97.47\\ 974.2 98.19\\ 975.4 98.55\\ 979 98.63\\ 981.4 98.9\\ 983.7 98.63\\ 984.9 98.37\\ 987.3 98.55\\ 988.5 98.28\\ 990.9 98.01\\ 993.2 98.1\\ 994.4 97.65\\ 995.6 97.29\\ 996.8 97.65\\ 998 97.47\\ 999.2 97.65\\ 1000.4 97.47\\ 1001.6 98.19\\ 1002.8 98.9\\ 1005.1 99.26\\ 1006.3 99.35\\ 1009.9 99.35\\ 1011.1 99.17\\ 1012.3 98.46\\ 1013.4 98.81\\ 1014.6 98.72\\ 1015.8 98.19\\ 1017 98.63\\ 1018.2 98.46\\ 1019.4 98.81\\ 1023 98.72\\ 1024.1 98.37\\
1027.7 98.28\\ 1028.9 98.28\\ 1030.1 98.81\\ 1031.3 98.55\\ 1032.5 97.74\\ 1037.2 97.83\\ 1038.4 99.17\\ 1044.3 99.17\\ 1045.5 98.55\\ 1046.7 98.37\\ 1047.9 98.55\\ 1050.3 98.28\\ 1051.5 97.47\\ 1052.2 96.98\\ 1053.1 97.56\\ 1055.5 97.74\\ 1057.9 97.83\\ 1059.3 97.29\\ 1060.3 97.65\\ 1061.7 97.65\\ 1062.6 98.1\\ 1064.1 98.1\\ 1065 97.47\\ 1066.4 97.11\\ 1067.4 97.83\\ 1068.8 97.83\\ 1069.8 97.29\\ 1071.2 97.56\\ 1072.1 98.1\\ 1073.6 98.1\\ 1074.5 97.47\\ 1075.9 98.01\\ 1078.3 98.01\\ 1079.3 97.92\\ 1080.7 97.47\\ 1081.7 97.47\\ 1083.1 97.83\\ 1086.4 97.74\\ 1087.8 97.74\\ 1088.8 98.37\\
1090.2 98.55\\ 1091.2 98.64\\ 1092.6 98.72\\ 1093.5 98.72\\ 1095 99.17\\ 1095.9 99.26\\ 1096.5 99.71\\
};
% NZD
\addplot[nzdc] table[row sep=\\] {x y\\
0 100\\ 1 99.3\\ 5 97.8\\ 6 97.8\\ 9 97.2\\ 10 97.0\\ 14 97.1\\ 16 97.9\\ 18 96.8\\ 20 96.9\\ 22 97.8\\ 25 97.5\\ 27 97.2\\ 30 96.2\\ 32 96.3\\ 35 97.0\\ 38 96.8\\ 41 97.0\\ 44 97.3\\ 46 97.8\\ 49 97.4\\ 51 97.0\\ 53 98.3\\ 57 96.8\\ 60 98.7\\ 64 99.0\\ 67 97.0\\ 70 97.0\\ 72 96.0\\ 74 95.8\\ 79 95.05\\ 81 95.7\\ 83 95.3\\ 86 95.7\\ 88 97.6\\ 91 97.9\\ 93 97.7\\ 96 96.3\\ 98 96.2\\ 100 98.9\\
104 99.1\\ 106 98.7\\ 110 99.5\\ 113 101.0\\ 116 101.65\\ 119 99.9\\ 121 101.1\\ 124 100.3\\ 126 100.3\\ 129 101.65\\ 132 101.8\\ 134 102.8\\ 136 103.1\\ 138 103.5\\ 141 103.7\\ 143 103.8\\ 148 103.6\\ 150 102.4\\ 151 102.2\\ 154 102.4\\ 157 102.1\\ 160 102.3\\ 162 101.5\\ 165 99.9\\ 169 100.2\\ 173 99.8\\ 175 100.5\\ 177 100.6\\ 178 99.3\\ 181 99.3\\ 184 99.9\\ 186 100.7\\ 189 100.4\\ 190 99.9\\ 193 100.6\\ 195 100.8\\ 199 101.4\\ 202 101.1\\ 205 101.1\\ 207 99.8\\
209 99.7\\ 212 101.1\\ 215 101.0\\ 218 100.8\\ 222 99.7\\ 225 99.6\\ 227 98.5\\ 229 98.4\\ 233 98.1\\ 235 97.5\\ 238 97.5\\ 240 98.25\\ 242 98.7\\ 244 98.8\\ 246 99.3\\ 247 97.6\\ 250 96.7\\ 253 96.3\\ 256 96.5\\ 258 96.5\\ 260 97.3\\ 263 97.5\\ 266 97.8\\ 268 96.4\\ 270 98.25\\ 272 98.5\\ 275 98.5\\ 277 98.3\\ 278 98.9\\ 280 98.55\\ 282 98.55\\ 283 100.2\\ 285 100.44\\ 287 99.9\\ 290 99.78\\ 291 99.9\\ 293 100.67\\ 295 100.67\\ 297 100.1\\ 299 101.22\\
301 101.33\\ 303 101.56\\ 304 101.11\\ 306 100.22\\ 309 100.44\\ 311 101.33\\ 313 100.67\\ 314 100.33\\ 316 100.44\\ 319 100.33\\ 321 100.33\\ 324 99.67\\ 327 99.56\\ 330 99.56\\ 334 100.67\\ 336 100.33\\ 338 99.67\\ 340 100.22\\ 343 99.56\\ 344 99.45\\ 346 99.11\\ 348 98.0\\ 350 97.9\\ 353 96.67\\ 355 96.33\\ 358 96.28\\ 359 97.45\\ 362 97.56\\ 364 97.33\\ 366 98.22\\ 368 98.56\\ 370 98.67\\ 372 99.67\\ 374 98.22\\ 375 99.33\\ 377 100.11\\ 379 100.56\\ 380 100.67\\ 382 102.0\\ 384 101.56\\
386 101.9\\ 388 102.33\\ 389 102.45\\ 391 102.0\\ 393 101.33\\ 395 102.11\\ 396 100.67\\ 399 100.67\\ 401 100.78\\ 403 101.33\\ 405 101.33\\ 408 102.1\\ 410 102.2\\ 412 102.55\\ 413 103.8\\ 415 102.67\\ 416 103.8\\ 419 104.0\\ 420 104.0\\ 422 102.67\\ 424 100.44\\ 427 100.56\\ 429 99.33\\ 430 100.0\\ 434 99.78\\ 436 99.33\\ 437 99.33\\ 440 98.67\\ 441 98.89\\ 444 98.0\\ 447 98.0\\ 449 97.89\\ 451 97.78\\ 454 98.33\\ 456 97.33\\ 457 98.67\\ 458 98.22\\ 461 97.67\\ 462 97.67\\ 464 96.22\\
467 96.44\\ 469 96.89\\ 471 95.67\\ 474 95.56\\ 476 96.44\\ 480 96.89\\ 481 96.56\\ 483 96.33\\ 485 96.0\\ 486 95.45\\ 488 96.0\\ 490 94.67\\ 492 94.45\\ 495 94.67\\ 496 94.9\\ 498 92.22\\ 501 92.55\\ 504 92.55\\ 506 92.22\\ 508 92.22\\ 510 92.33\\ 512 91.78\\ 514 91.78\\ 516 92.45\\ 518 91.9\\ 520 91.1\\ 523 91.55\\ 525 92.0\\ 528 91.55\\ 530 93.11\\ 532 92.89\\ 535 93.45\\ 537 93.33\\ 539 92.22\\ 544 92.33\\ 546 93.22\\ 548 93.0\\ 550 92.44\\ 553 92.44\\ 554 92.39\\
556 93.96\\ 557.4 93.96\\ 559 93.42\\ 560.5 93.42\\ 561.5 94.41\\ 563 94.05\\ 564 93.87\\ 566 93.96\\ 567 93.87\\ 568.6 92.8\\ 570.1 91.72\\ 571.7 91.99\\ 572.9 91.99\\ 574.1 93.16\\ 575.3 93.96\\ 577.2 93.33\\ 580.6 93.33\\ 582.5 93.6\\ 584.4 95.31\\ 587.7 95.31\\ 589.1 94.59\\ 590.8 93.96\\ 594.4 93.87\\ 597.5 94.05\\ 599.2 93.16\\ 601.1 93.16\\ 602.7 93.87\\ 604.4 94.95\\ 605.8 92.98\\ 606.8 90.69\\ 608.7 90.64\\ 609.9 92.08\\ 611.6 93.87\\ 613 95.67\\ 614.7 96.39\\ 616.3 97.1\\ 617.8 97.82\\ 619.4 98.27\\ 620.6 97.46\\ 621.8 98.18\\
623.5 97.28\\ 624.9 98.27\\ 625.9 97.64\\ 627.3 98.0\\ 629 97.91\\ 630.1 97.1\\ 631.3 97.55\\ 632.5 96.92\\ 633.7 97.82\\ 635.4 97.82\\ 636.8 98.09\\ 637.8 98.45\\ 639.2 96.92\\ 640.9 97.37\\ 642.5 96.57\\ 643.7 95.94\\ 644.9 97.28\\ 646.4 96.39\\ 648 96.92\\ 649.2 96.39\\ 651.1 97.37\\ 652.8 96.75\\ 654 97.28\\ 655.9 97.82\\ 657.6 97.46\\ 658.8 98.18\\ 660 97.64\\ 663.1 97.82\\ 664.5 98.54\\ 665.9 98.9\\ 667.1 98.72\\ 668.8 98.45\\ 670.2 99.08\\ 671.6 98.99\\ 673.1 99.35\\ 674.2 98.99\\ 675.4 99.44\\ 676.9 98.72\\ 678 99.26\\ 679.7 98.9\\
681.4 98.54\\ 682.6 97.73\\ 684.5 97.82\\ 686.2 98.36\\ 687.4 99.08\\ 689.3 99.35\\ 690.9 99.44\\ 692.6 99.71\\ 694 99.89\\ 695.7 99.62\\ 696.9 99.35\\ 698.8 98.9\\ 700 98.27\\ 701.7 98.9\\ 702.9 98.54\\ 704.5 98.36\\ 706.4 98.0\\ 708.3 97.64\\ 710 97.19\\ 711.2 97.64\\ 713.1 97.46\\ 714.8 98.0\\ 716 99.08\\ 717.9 98.54\\ 719.5 98.63\\ 720.7 97.64\\ 722.6 96.66\\ 724.3 96.57\\ 725.5 96.84\\ 727.4 96.75\\ 729.1 97.1\\ 730.7 97.64\\ 732.2 97.46\\ 733.8 97.1\\ 735.5 97.28\\ 737.4 97.91\\ 738.6 97.1\\ 739.8 96.92\\ 741.7 96.75\\ 743.4 96.21\\
745.1 95.31\\ 746.5 96.03\\ 748.1 95.85\\ 749.8 95.94\\ 751.2 96.21\\ 752.9 96.57\\ 754.6 96.39\\ 756.5 96.66\\ 758.4 95.76\\ 760.1 96.57\\ 761.3 96.66\\ 763.2 97.28\\ 764.8 97.64\\ 766.5 97.91\\ 767.9 97.64\\ 769.6 97.82\\ 771.3 98.09\\ 772.7 97.28\\ 774.4 95.94\\ 776 95.94\\ 777.9 95.85\\ 779.9 95.58\\ 781.5 94.41\\ 782.7 94.59\\ 784.6 94.68\\ 786.3 95.31\\ 788 95.49\\ 791 95.67\\ 792.7 95.67\\ 794.6 95.04\\ 795.8 94.14\\ 797.5 93.78\\ 799.4 93.65\\ 801.3 93.78\\ 803 93.87\\ 804.6 94.05\\ 806.5 94.14\\ 808.5 94.23\\ 810.1 94.37\\ 811.8 94.5\\
813.7 94.59\\ 815.6 94.23\\ 817.3 93.87\\ 819 93.69\\ 820.4 93.51\\ 821.3 92.44\\ 823.2 92.26\\ 825.6 92.17\\ 828.1 92.72\\ 830.5 92.81\\ 832.8 93.07\\ 834 92.72\\ 835.2 92.36\\ 836.4 91.64\\ 837.6 92.0\\ 840 92.0\\ 841.2 92.27\\ 842.3 93.16\\ 843.5 93.88\\ 847.1 93.97\\ 848.3 94.06\\ 849.5 94.42\\ 850.7 93.88\\ 851.9 94.42\\ 853 94.6\\ 855.4 94.69\\ 856.6 95.32\\ 857.8 95.23\\ 860.2 94.96\\ 862.5 94.69\\ 864.9 94.42\\ 866.1 94.24\\ 867.3 94.42\\ 868.5 94.78\\ 869.7 95.77\\ 872.1 95.59\\ 874.4 95.5\\ 875.6 95.41\\ 876.8 94.96\\ 878 94.6\\
879.2 94.42\\ 880.4 94.78\\ 881.6 94.42\\ 882.7 94.33\\ 883.9 94.78\\ 885.1 94.6\\ 886.3 94.06\\ 887.5 93.88\\ 888.7 93.97\\ 889.9 94.6\\ 891.1 94.06\\ 894.6 94.24\\ 895.8 94.6\\ 897 95.32\\ 898.2 95.77\\ 899.4 96.57\\ 900.6 97.38\\ 901.8 97.47\\ 902.9 97.74\\ 904.1 98.55\\ 905.3 99.26\\ 906.5 99.53\\ 907.7 98.81\\ 908.9 98.55\\ 910.1 99.0\\ 911.3 98.64\\ 912.5 97.83\\ 912.9 97.38\\ 913.6 97.74\\ 914.4 97.38\\ 915.3 98.37\\ 916 98.73\\ 917.2 99.08\\ 919.6 99.17\\ 920.8 98.9\\ 924.3 98.9\\ 925.5 98.19\\ 926.7 97.74\\ 927.9 97.83\\ 929.1 98.01\\
931.5 98.37\\ 932.7 98.1\\ 933.8 98.28\\ 935 97.83\\ 936.2 97.65\\ 937.4 97.47\\ 938.6 96.93\\ 939.8 97.29\\ 941 96.48\\ 942.2 96.66\\ 943.3 96.03\\ 944.5 97.11\\ 945.7 96.84\\ 946.9 96.12\\ 948.1 95.5\\ 949.3 95.32\\ 950.5 94.69\\ 951.7 95.14\\ 952.9 95.68\\ 954.1 94.96\\ 955.2 96.12\\ 956.4 95.32\\ 957.6 95.68\\ 958.8 95.14\\ 960 95.59\\ 961.2 95.5\\ 962.4 94.24\\ 963.5 94.15\\ 964.7 93.88\\ 965.9 93.7\\ 967.1 94.06\\ 968.3 94.33\\ 969.5 94.06\\ 970.7 93.34\\ 971.9 93.25\\ 973.1 93.16\\ 974.2 93.61\\ 975.4 95.14\\ 976.6 95.41\\ 977.8 95.68\\
979 95.14\\ 980.2 95.59\\ 981.4 96.21\\ 982.6 96.84\\ 983.7 96.75\\ 984.9 96.3\\ 986.1 95.95\\ 987.3 96.39\\ 988.5 96.75\\ 989.7 95.95\\ 990.9 96.39\\ 992.1 96.84\\ 993.2 96.84\\ 994.4 96.3\\ 995.6 95.59\\ 996.8 96.84\\ 998 96.84\\ 999.2 96.57\\ 1001.6 96.3\\ 1002.8 96.57\\ 1003.9 97.65\\ 1007.5 97.74\\ 1008.7 97.65\\ 1009.9 97.38\\ 1011.1 96.39\\ 1012.3 95.68\\ 1013.4 96.3\\ 1014.6 95.68\\ 1015.8 96.3\\ 1017 95.68\\ 1018.2 96.21\\ 1020.6 96.3\\ 1021.8 96.21\\ 1023 95.68\\ 1024.1 96.84\\ 1025.3 97.47\\ 1026.5 98.1\\ 1027.7 97.65\\ 1028.9 97.29\\ 1030.1 97.2\\
1031.3 96.21\\ 1032.5 96.03\\ 1033.7 94.96\\ 1034.8 95.23\\ 1037.2 95.23\\ 1039.6 95.77\\ 1042 95.59\\ 1043.2 95.5\\ 1044.3 94.87\\ 1045.5 94.51\\ 1046.7 94.06\\ 1047.9 93.79\\ 1050.3 93.7\\ 1051.5 92.72\\ 1052.7 92.54\\ 1053.8 92.45\\ 1056.2 92.72\\ 1057.4 92.81\\ 1058.6 93.07\\ 1059.8 93.16\\ 1061 93.52\\ 1063.4 93.52\\ 1064.5 93.07\\ 1065.7 93.34\\ 1066.9 94.33\\ 1069.3 94.42\\ 1070.5 94.33\\ 1071.7 95.14\\ 1072.9 95.86\\ 1078.8 95.68\\ 1080 95.41\\ 1081.2 94.6\\ 1083.6 94.69\\ 1087.1 94.87\\ 1088.3 96.39\\ 1090.7 96.21\\ 1091.9 96.39\\ 1093.1 96.57\\ 1094.3 96.21\\ 1095.4 96.57\\
1096.5 96.53\\
};
\node[font=\fontsize{10}{12}\selectfont, text=audc, rotate=30] at (axis cs:1178,107.59) {AUD};
\node[font=\fontsize{10}{12}\selectfont, text=mxnc, rotate=30] at (axis cs:1178,99.75) {MXN};
\node[font=\fontsize{10}{12}\selectfont, text=nzdc, rotate=30] at (axis cs:1178,96.95) {NZD};
\node[font=\fontsize{10}{12}\selectfont, text=cadc, rotate=30] at (axis cs:1178,95.97) {CAD};
\node[font=\fontsize{10}{12}\selectfont, text=wmc, anchor=base east, inner sep=0pt] at (rel axis cs:0.991,0.0175) {TangledLines.net};
\end{axis}
\end{tikzpicture}
\end{document}
